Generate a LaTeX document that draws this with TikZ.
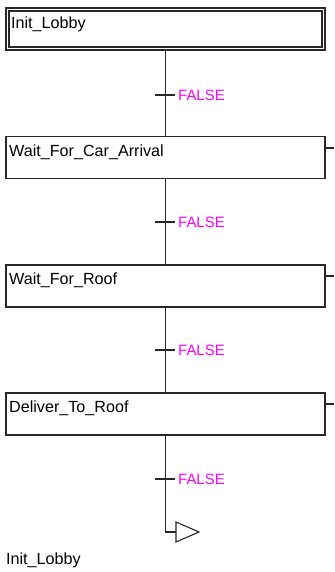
\documentclass[tikz,border=0pt]{standalone}
\usepackage{fontspec}
\setmainfont{Liberation Sans}
\definecolor{cond}{RGB}{255,0,255}
\definecolor{lncol}{RGB}{40,40,40}
\begin{document}
\begin{tikzpicture}[x=1bp,y=-1bp,
  ln/.style={draw=lncol,line width=1.1bp},
  stepbox/.style={ln,rectangle,inner sep=0,minimum width=319bp,minimum height=42bp},
  initbox/.style={draw=lncol,line width=1.1bp,double=white,double distance=1.9bp,rectangle,inner sep=0,minimum width=316bp,minimum height=39bp},
  steptext/.style={anchor=base west,inner sep=0,font=\fontsize{16.2}{18}\selectfont,text=black},
  condtext/.style={anchor=west,inner sep=0,font=\fontsize{15}{17}\selectfont,text=cond},
]
\useasboundingbox (0,0) rectangle (334,572);
\fill[white] (0,0) rectangle (334,572);
% steps
\node[initbox] (b1) at (165.5,29) {};
\node[stepbox] (b2) at (165.5,157.5) {};
\node[stepbox] (b3) at (165.5,286) {};
\node[stepbox] (b4) at (165.5,414) {};
\node[steptext] (t1) at (11,28.5) {Init\_Lobby};
\node[steptext] (t2) at (9,156.5) {Wait\_For\_Car\_Arrival};
\node[steptext] (t3) at (9,284.5) {Wait\_For\_Roof};
\node[steptext] (t4) at (9,412.5) {Deliver\_To\_Roof};
% right stubs
\coordinate (s2) at (334,148);
\coordinate (s3) at (334,276);
\coordinate (s4) at (334,404);
\draw[ln] (b2.east |- s2) -- (s2);
\draw[ln] (b3.east |- s3) -- (s3);
\draw[ln] (b4.east |- s4) -- (s4);
% connectors
\draw[ln] (b1.south) -- (b2.north);
\draw[ln] (b2.south) -- (b3.north);
\draw[ln] (b3.south) -- (b4.north);
\coordinate (e) at (165.5,532);
\coordinate (j) at (176,532);
\draw[ln] (b4.south) -- (e) -- (j);
\draw[ln,line join=miter] (176,522) -- (199,532) -- (176,542) -- cycle;
% transitions
\foreach \n/\y in {k1/95,k2/222,k3/350,k4/479}{
  \coordinate (\n) at (165.5,\y);
  \draw[ln] ([xshift=-10.5bp]\n) -- ([xshift=9.5bp]\n);
  \node[condtext] (c\n) at (178,\y) {FALSE};
}
% jump label
\node[steptext] (jl) at (6,564) {Init\_Lobby};
\end{tikzpicture}
\end{document}
